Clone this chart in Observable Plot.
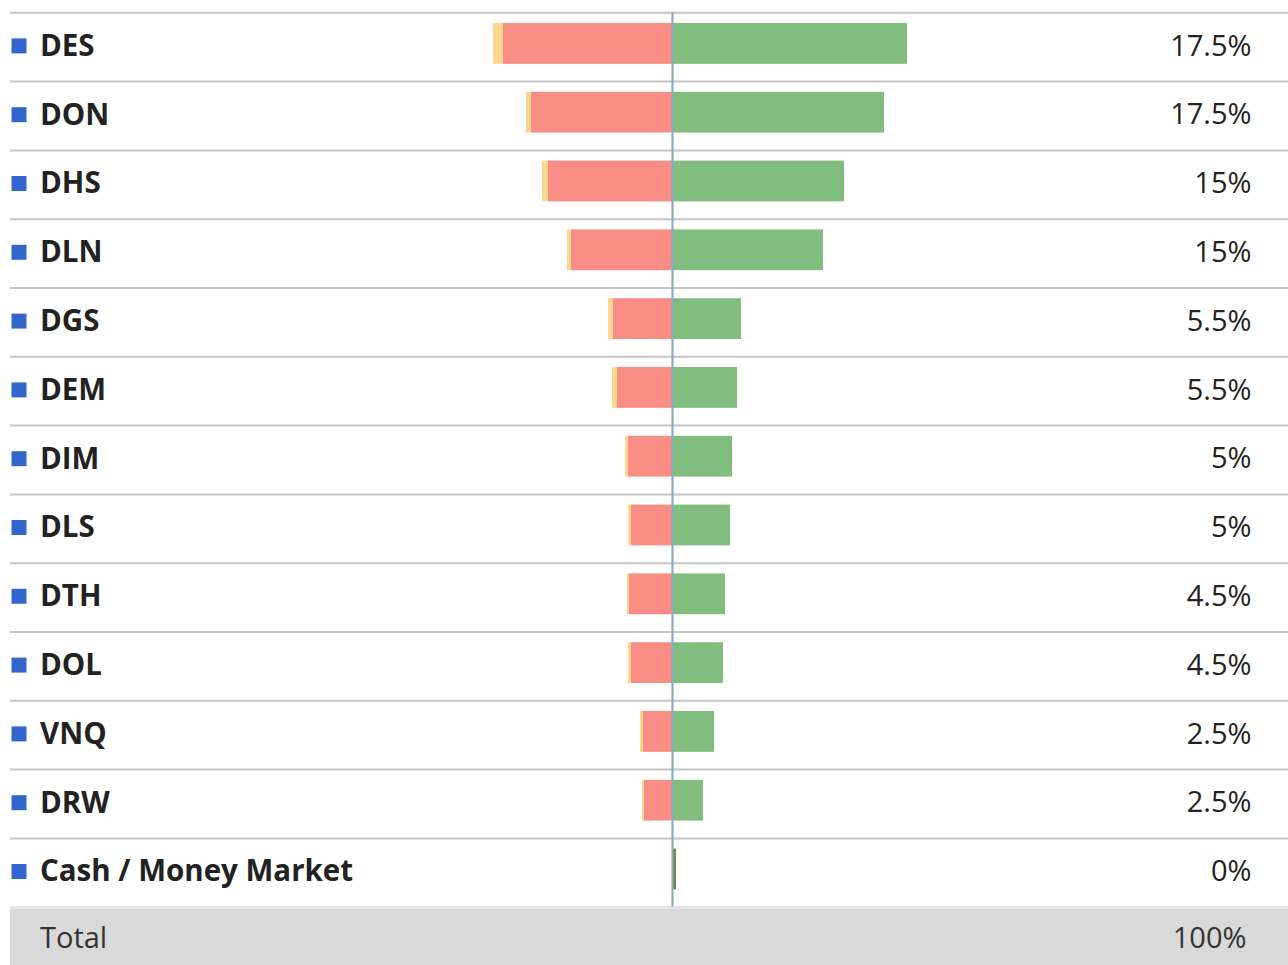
<!DOCTYPE html>
<html>
<head>
<meta charset="utf-8">
<script src="https://cdn.jsdelivr.net/npm/d3@7"></script>
<script src="https://cdn.jsdelivr.net/npm/@observablehq/plot@0.6"></script>
<style>
  html, body { margin: 0; padding: 0; background: #fff; }
  #chart svg { display: block; }
</style>
</head>
<body>
<div id="chart"></div>
<script>
const names = ["DES","DON","DHS","DLN","DGS","DEM","DIM","DLS","DTH","DOL","VNQ","DRW","Cash / Money Market"];
const weights = ["17.5%","17.5%","15%","15%","5.5%","5.5%","5%","5%","4.5%","4.5%","2.5%","2.5%","0%"];
const gains  = [23.5, 21.2, 17.2, 15.1, 6.9, 6.5, 6.0, 5.8, 5.3, 5.1, 4.2, 3.1, 0.4];
const losses = [16.9, 14.1, 12.4, 10.1, 5.9, 5.5, 4.4, 4.1, 4.3, 4.1, 2.9, 2.8, 0];
const others = [1.0, 0.5, 0.6, 0.4, 0.5, 0.5, 0.3, 0.3, 0.2, 0.3, 0.3, 0.2, 0];
const totalLabel = "Total";
const totalValue = "100%";

const rows = names.map((name, i) => ({
  name, weight: weights[i], gain: gains[i], loss: losses[i], other: others[i]
}));
const yDomain = [...names, totalLabel];

const chart = Plot.plot({
  width: 1288,
  height: 965,
  marginLeft: 10,
  marginRight: 0,
  marginTop: 12,
  marginBottom: 0,
  style: { fontFamily: "'Open Sans', sans-serif", background: "#fff", overflow: "hidden" },
  x: { domain: [-66.2, 61.6], axis: null },
  y: { type: "band", domain: yDomain, range: [12, 12 + 68.8 * yDomain.length], padding: 0, round: false, axis: null },
  marks: [
    // Total band
    Plot.cell([totalLabel], { y: d => d, fill: "#d9d9d9" }),
    Plot.ruleY([totalLabel], { y: d => d, dy: -33.4, stroke: "#e4e4e4", strokeWidth: 2 }),
    // separators
    Plot.ruleY(names, { y: d => d, dy: -34.1, stroke: "#c4c4c4", strokeWidth: 2 }),
    // bars
    Plot.barX(rows, { y: "name", x1: d => -d.loss, x2: d => -(d.loss + d.other), fill: "#fdd78f", insetTop: 11, insetBottom: 17 }),
    Plot.barX(rows, { y: "name", x1: 0, x2: d => -d.loss, fill: "#f78d85", insetTop: 11, insetBottom: 17 }),
    Plot.barX(rows, { y: "name", x1: 0, x2: d => d.gain, fill: d => d.name.startsWith("Cash") ? "#6b8a3c" : "#80bd7f", insetTop: 11, insetBottom: 17 }),
    // center line
    Plot.ruleX([0], { x: d => d, y1: () => names[0], y2: () => names[names.length - 1], stroke: "#8aacbd", strokeWidth: 2.2 }),
    // legend squares
    Plot.dot(rows, { y: "name", frameAnchor: "left", dx: 8.5, dy: -1, symbol: "square", r: 8.46, fill: "#3366cc", stroke: null }),
    // names
    Plot.text(rows, { y: "name", text: "name", frameAnchor: "left", textAnchor: "start", dx: 29.5, dy: -0.5, fontSize: 29.5, fontWeight: 700, fill: "#222" }),
    // weights
    Plot.text(rows, { y: "name", text: "weight", frameAnchor: "right", textAnchor: "end", dx: -37, dy: -0.5, fontSize: 29, fill: "#222" }),
    // total row
    Plot.text([totalLabel], { y: d => d, text: d => d, frameAnchor: "left", textAnchor: "start", dx: 29.5, dy: -2.5, fontSize: 29, fill: "#333" }),
    Plot.text([totalValue], { y: () => totalLabel, text: d => d, frameAnchor: "right", textAnchor: "end", dx: -42, dy: -2.5, fontSize: 29, fill: "#333" })
  ]
});
document.getElementById("chart").appendChild(chart);
</script>
</body>
</html>
